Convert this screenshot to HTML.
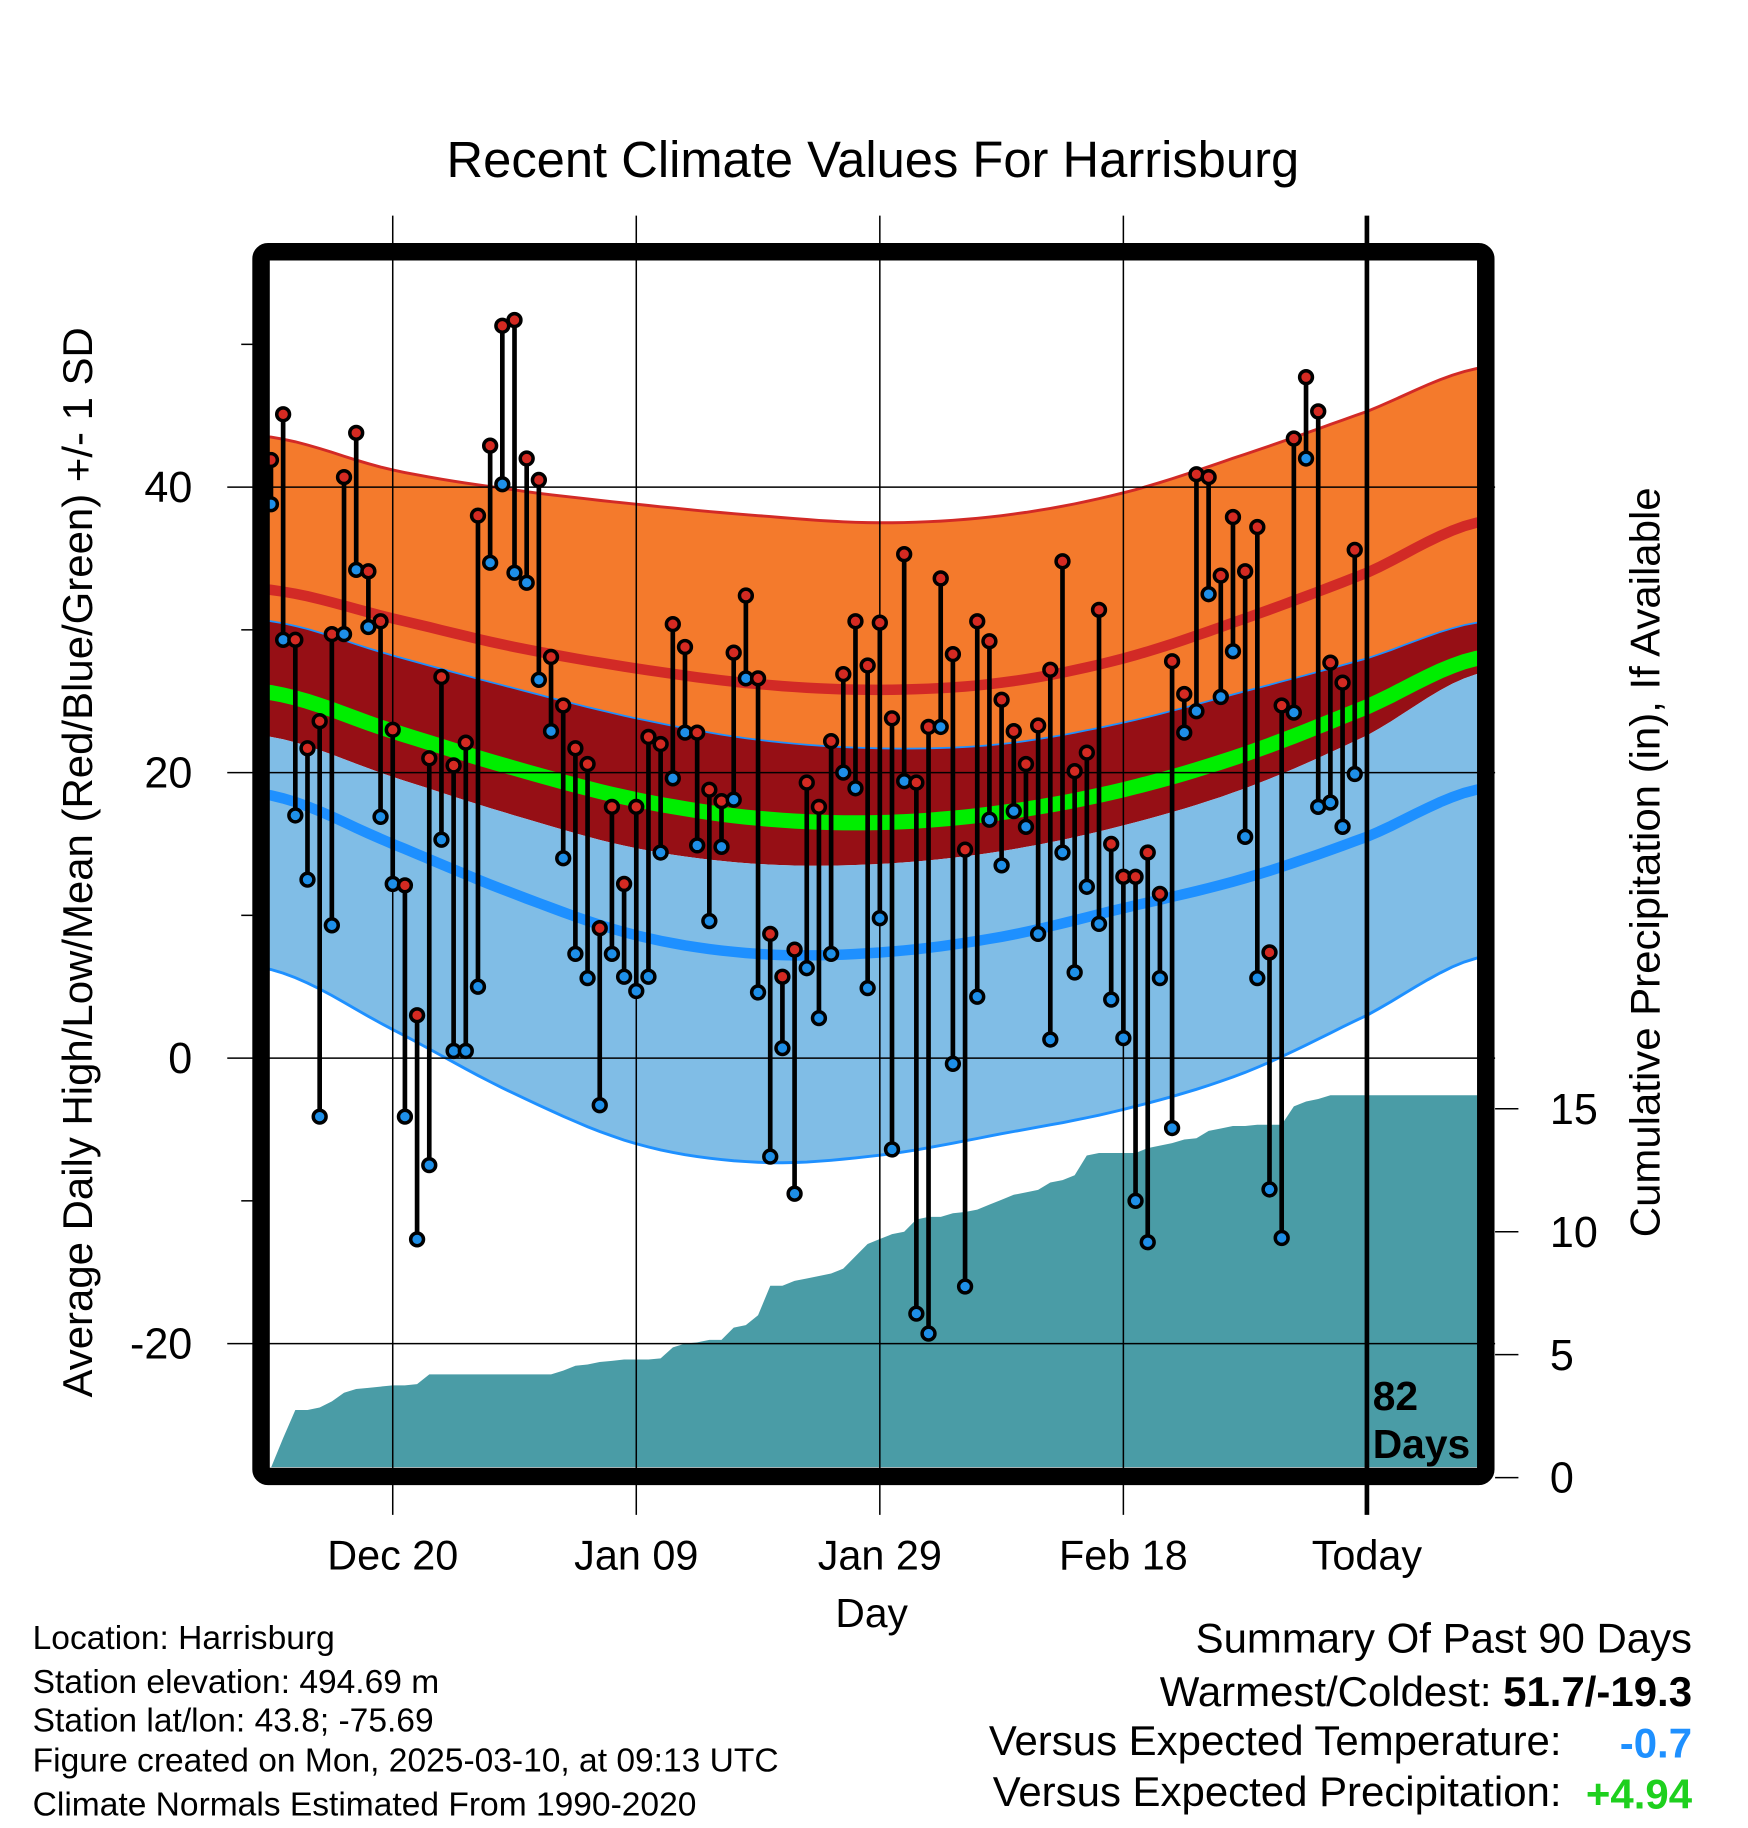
<!DOCTYPE html>
<html><head><meta charset="utf-8">
<style>
html,body{margin:0;padding:0;background:#fff;}
svg{display:block;font-family:"Liberation Sans",sans-serif;}
</style></head>
<body>
<svg id="chart" xmlns="http://www.w3.org/2000/svg" width="1748" height="1828" viewBox="0 0 1500 1568.7">
<defs><clipPath id="plotclip"><rect x="231" y="223" width="1037" height="1036"/></clipPath></defs>
<text x="749" y="152" font-size="43.5" text-anchor="middle">Recent Climate Values For Harrisburg</text>
<g id="plot" clip-path="url(#plotclip)"></g>
<g id="axes"></g>
<g id="marks"></g>
<rect x="224" y="216" width="1051" height="1051" rx="6" fill="none" stroke="#000" stroke-width="15"/>
<text x="1178" y="1210" font-size="35" font-weight="bold">82</text>
<text x="1178" y="1251" font-size="35" font-weight="bold">Days</text>
<text transform="translate(79,740) rotate(-90)" font-size="36" text-anchor="middle">Average Daily High/Low/Mean (Red/Blue/Green) +/- 1 SD</text>
<text transform="translate(1424,740) rotate(-90)" font-size="36" text-anchor="middle">Cumulative Precipitation (in), If Available</text>
<text x="748" y="1396" font-size="35" text-anchor="middle">Day</text>
<g font-size="28.8">
<text x="28" y="1415">Location: Harrisburg</text>
<text x="28" y="1453">Station elevation: 494.69 m</text>
<text x="28" y="1486">Station lat/lon: 43.8; -75.69</text>
<text x="28" y="1520">Figure created on Mon, 2025-03-10, at 09:13 UTC</text>
<text x="28" y="1558">Climate Normals Estimated From 1990-2020</text>
</g>
<g font-size="36" text-anchor="end">
<text x="1452" y="1418">Summary Of Past 90 Days</text>
<text x="1452" y="1464">Warmest/Coldest: <tspan font-weight="bold">51.7/-19.3</tspan></text>
<text x="1340" y="1506">Versus Expected Temperature:</text>
<text x="1452" y="1508" font-weight="bold" fill="#1e90ff">-0.7</text>
<text x="1340" y="1550">Versus Expected Precipitation:</text>
<text x="1452" y="1552" font-weight="bold" fill="#1ed01e">+4.94</text>
</g>
</svg>
<script>
// Normals sampled at day offsets from Dec 20
const normDays = [-10,0,10,20,30,40,50,60,70,80,89];
const highPlus = [43.5,41.2,39.8,38.8,38.0,37.5,38.0,39.6,42.3,45.3,48.3];
const highMean = [32.8,30.8,28.8,27.3,26.2,25.8,26.3,28.0,30.8,34.0,37.5];
const highMinus = [30.6,28.2,25.9,23.8,22.3,21.7,22.0,23.5,25.7,28.0,30.5];
const meanTemp = [25.6,22.9,20.3,18.1,16.8,16.5,17.2,18.8,21.3,24.6,28.0];
const lowPlus = [22.5,19.7,17.0,14.7,13.6,13.6,14.5,16.3,18.9,22.6,26.9];
const lowMean = [18.4,15.0,11.5,8.6,7.3,7.4,8.5,10.5,12.6,15.5,18.8];
const lowMinus = [6.2,2.0,-2.5,-6.0,-7.3,-6.8,-5.3,-3.6,-1.0,3.0,7.0];
// Daily observations, first day = Dec 10 (offset -10)
const firstDay = -10;
const highs = [41.9,45.1,29.3,21.7,23.6,29.7,40.7,43.8,34.1,30.6,23.0,12.1,3.0,21.0,26.7,20.5,22.1,38.0,42.9,51.3,51.7,42.0,40.5,28.1,24.7,21.7,20.6,9.1,17.6,12.2,17.6,22.5,22.0,30.4,28.8,22.8,18.8,18.0,28.4,32.4,26.6,8.7,5.7,7.6,19.3,17.6,22.2,26.9,30.6,27.5,30.5,23.8,35.3,19.3,23.2,33.6,28.3,14.6,30.6,29.2,25.1,22.9,20.6,23.3,27.2,34.8,20.1,21.4,31.4,15.0,12.7,12.7,14.4,11.5,27.8,25.5,40.9,40.7,33.8,37.9,34.1,37.2,7.4,24.7,43.4,47.7,45.3,27.7,26.3,35.6];
const lows = [38.8,29.3,17.0,12.5,-4.1,9.3,29.7,34.2,30.2,16.9,12.2,-4.1,-12.7,-7.5,15.3,0.5,0.5,5.0,34.7,40.2,34.0,33.3,26.5,22.9,14.0,7.3,5.6,-3.3,7.3,5.7,4.7,5.7,14.4,19.6,22.8,14.9,9.6,14.8,18.1,26.6,4.6,-6.9,0.7,-9.5,6.3,2.8,7.3,20.0,18.9,4.9,9.8,-6.4,19.4,-17.9,-19.3,23.2,-0.4,-16.0,4.3,16.7,13.5,17.3,16.2,8.7,1.3,14.4,6.0,12.0,9.4,4.1,1.4,-10.0,-12.9,5.6,-4.9,22.8,24.3,32.5,25.3,28.5,15.5,5.6,-9.2,-12.6,24.2,42.0,17.6,17.9,16.2,19.9];
const precip = [0.4,1.6,2.75,2.75,2.85,3.1,3.45,3.6,3.65,3.7,3.75,3.75,3.8,4.2,4.2,4.2,4.2,4.2,4.2,4.2,4.2,4.2,4.2,4.2,4.35,4.55,4.6,4.7,4.75,4.8,4.8,4.8,4.85,5.3,5.45,5.5,5.6,5.6,6.1,6.2,6.6,7.8,7.8,8.0,8.1,8.2,8.3,8.5,9.0,9.5,9.7,9.9,10.0,10.5,10.6,10.6,10.75,10.8,10.9,11.1,11.3,11.5,11.6,11.7,12.0,12.1,12.3,13.1,13.2,13.2,13.2,13.2,13.4,13.5,13.6,13.75,13.8,14.1,14.2,14.3,14.3,14.35,14.35,14.35,15.1,15.3,15.4,15.55,15.55,15.55];
const tempTicks = [-20,0,20,40];
const tempMinor = [-10,10,30,50];
const precipTicks = [0,5,10,15];
const dateTicks = [0,20,40,60,80];
const dateLabels = ["Dec 20","Jan 09","Jan 29","Feb 18","Today"];

const NS="http://www.w3.org/2000/svg";
function X(d){return 337+d*10.45;}
function Y(t){return 908-t*12.25;}
function P(p){return 1268-p*21.1;}
function mk(tag,attrs,parent){const e=document.createElementNS(NS,tag);for(const k in attrs)e.setAttribute(k,attrs[k]);parent.appendChild(e);return e;}
const plot=document.getElementById('plot'), axes=document.getElementById('axes'), marks=document.getElementById('marks');

function interp(arr,d){
  let i=0;while(i<normDays.length-2&&d>normDays[i+1])i++;
  const t=(d-normDays[i])/(normDays[i+1]-normDays[i]);
  const p0=arr[Math.max(i-1,0)],p1=arr[i],p2=arr[i+1],p3=arr[Math.min(i+2,arr.length-1)];
  return 0.5*((2*p1)+(-p0+p2)*t+(2*p0-5*p1+4*p2-p3)*t*t+(-p0+3*p1-3*p2+p3)*t*t*t);
}
const sampleD=[];for(let d=-11;d<=90;d+=1)sampleD.push(d);
function linePts(arr){return sampleD.map(d=>X(d).toFixed(1)+','+Y(interp(arr,d)).toFixed(1));}
function band(a,b,fill,name){
  const pts=linePts(a).concat(linePts(b).reverse());
  const e=mk('polygon',{points:pts.join(' '),fill:fill},plot);
  
  
}
function line(arr,color,w,name){
  const e=mk('polyline',{points:linePts(arr).join(' '),fill:'none',stroke:color,'stroke-width':w},plot);
  
  
}
band(highPlus,highMinus,'#f47a2c','high-sd-band');
band(highMinus,lowPlus,'#960f15','overlap-band');
band(lowPlus,lowMinus,'#80bde6','low-sd-band');
line(highMean,'#d22a26',9,'high-normal-line');
line(meanTemp,'#00ee00',13,'mean-normal-line');
line(lowMean,'#1e90ff',9,'low-normal-line');
line(highPlus,'#d22a26',2.5,'high-plus-sd-line');
line(highMinus,'#1e90ff',1.5,'high-minus-sd-line');
line(lowMinus,'#1e90ff',2.5,'low-minus-sd-line');

{
  const pts=[X(firstDay)+','+1270];
  precip.forEach((p,i)=>pts.push(X(firstDay+i).toFixed(1)+','+P(p).toFixed(1)));
  pts.push(X(95)+','+P(precip[precip.length-1]).toFixed(1));
  pts.push(X(95)+',1270');
  const e=mk('polygon',{points:pts.join(' '),fill:'#4a9ca6'},plot);
  
  
}

tempTicks.forEach(t=>{
  const g=mk('line',{x1:195,x2:1283,y1:Y(t),y2:Y(t),stroke:'#000','stroke-width':1.3},axes);
  
  
  const l=mk('text',{x:165,y:Y(t)+13,'font-size':37,'text-anchor':'end'},axes);
  l.textContent=t;
  
  
});
tempMinor.forEach(t=>{
  const g=mk('line',{x1:207,x2:217,y1:Y(t),y2:Y(t),stroke:'#000','stroke-width':1.3},axes);
  
  
});
precipTicks.forEach(p=>{
  const g=mk('line',{x1:1283,x2:1303,y1:P(p),y2:P(p),stroke:'#000','stroke-width':1.3},axes);
  
  
  const l=mk('text',{x:1330,y:P(p)+13,'font-size':37},axes);
  l.textContent=p;
  
  
});
dateTicks.forEach((d,i)=>{
  const today=i===dateTicks.length-1;
  const g=mk('line',{x1:X(d),x2:X(d),y1:185,y2:1300,stroke:'#000','stroke-width':today?4:1.3},axes);
  
  
  const l=mk('text',{x:X(d),y:1347,'font-size':35.5,'text-anchor':'middle'},axes);
  l.textContent=dateLabels[i];
  
  
});

highs.forEach((h,i)=>{
  const x=X(firstDay+i), lo=lows[i];
  const s=mk('line',{x1:x,x2:x,y1:Y(h),y2:Y(lo),stroke:'#000','stroke-width':4},marks);
  
  
  const c1=mk('circle',{cx:x,cy:Y(lo),r:5.5,fill:'#1e8fe8',stroke:'#000','stroke-width':3},marks);
  
  
  const c2=mk('circle',{cx:x,cy:Y(h),r:5.5,fill:'#d42a22',stroke:'#000','stroke-width':3},marks);
  
  
});
</script>
</body></html>
